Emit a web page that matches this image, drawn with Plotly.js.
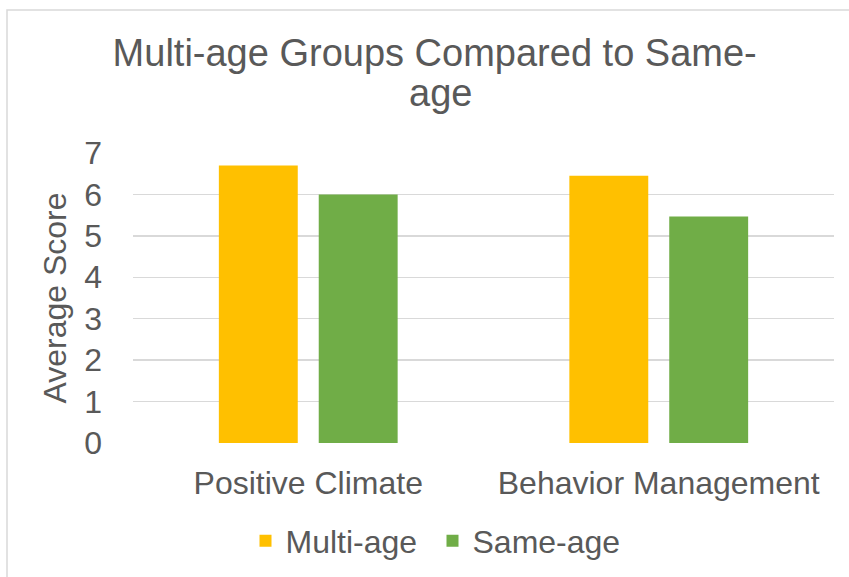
<!DOCTYPE html>
<html>
<head>
<meta charset="utf-8">
<script src="https://cdn.plot.ly/plotly-3.0.1.min.js"></script>
<style>html,body{margin:0;padding:0;background:#fff;}#chart{width:849px;height:577px;}</style>
</head>
<body>
<div id="chart"></div>
<script>
const categories = ["Positive Climate", "Behavior Management"];
const multiAge = [6.7, 6.45];
const sameAge = [6.0, 5.47];
const seriesNames = ["Multi-age", "Same-age"];
const yTicks = [0, 1, 2, 3, 4, 5, 6, 7];
const titleLine1 = "Multi-age Groups Compared to Same-";
const titleLine2 = "age";

const FONT = "Liberation Sans, Arial, sans-serif";
const TXT = "#595959";
const FS = 32;

const traces = [
  {type: "bar", name: seriesNames[0], x: categories, y: multiAge,
   marker: {color: "#FFC000"}, hoverinfo: "skip"},
  {type: "bar", name: seriesNames[1], x: categories, y: sameAge,
   marker: {color: "#70AD47"}, hoverinfo: "skip"}
];

const layout = {
  width: 849, height: 577,
  margin: {l: 133, r: 15, t: 153, b: 134},
  paper_bgcolor: "#ffffff", plot_bgcolor: "#ffffff",
  font: {family: FONT, color: TXT, size: FS},
  barmode: "group", bargap: 0.43, bargroupgap: 0.21,
  title: {text: titleLine1, font: {family: FONT, size: 38, color: TXT},
          x: 0.512, xref: "container", xanchor: "center",
          y: 1 - 66/577, yref: "container", yanchor: "bottom"},
  annotations: [{text: titleLine2, xref: "paper", yref: "paper",
    x: (440 - 133) / 701, y: (443 - 104) / 290, xanchor: "center", yanchor: "bottom",
    showarrow: false, font: {family: FONT, size: 38, color: TXT}, yshift: -12}],
  xaxis: {type: "category", showgrid: false, zeroline: false, showline: false,
          ticks: "", ticklabelstandoff: 18, tickfont: {size: FS, color: TXT}},
  yaxis: {range: [0, 7], tickvals: yTicks, showgrid: true, gridcolor: "#d9d9d9", gridwidth: 1.3,
          zeroline: false, showline: false, ticks: "", ticklabelstandoff: 30,
          tickfont: {size: FS, color: TXT},
          title: {text: "Average Score", font: {size: FS, color: TXT}, standoff: 8}},
  showlegend: true,
  legend: {orientation: "h", xref: "container", yref: "container",
           x: 432.5/849, y: 1 - 541/577, xanchor: "center", yanchor: "middle",
           font: {size: FS, color: TXT}, traceorder: "normal", itemclick: false,
           itemwidth: 30, entrywidth: 142, entrywidthmode: "pixels"},
  shapes: [{type: "rect", xref: "paper", yref: "paper",
            x0: (7 - 133) / 701, x1: 1.2, y0: -0.8, y1: (443 - 10) / 290,
            line: {color: "#d9d9d9", width: 1.5}, fillcolor: "rgba(0,0,0,0)", layer: "below"}]
};

Plotly.newPlot("chart", traces, layout, {staticPlot: true, displayModeBar: false});
</script>
</body>
</html>
